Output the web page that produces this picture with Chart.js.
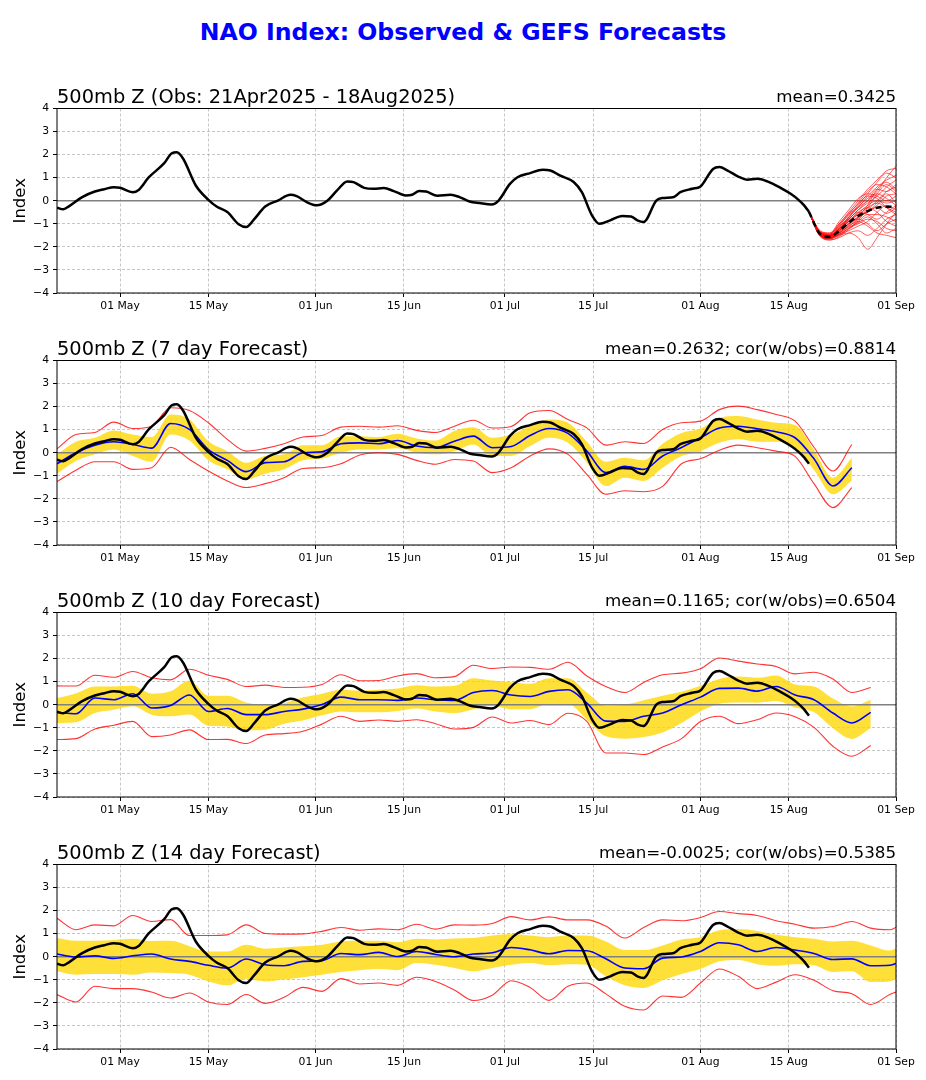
<!DOCTYPE html>
<html>
<head>
<meta charset="utf-8">
<title>NAO Index: Observed & GEFS Forecasts</title>
<script src="https://cdn.jsdelivr.net/npm/chart.js@4.4.1/dist/chart.umd.min.js"></script>
<style>
  body { margin: 0; background: #fff; width: 926px; height: 1080px; position: relative; overflow: hidden; font-family: "DejaVu Sans", sans-serif; }
  #title { position: absolute; left: 0; top: 18px; width: 926px; text-align: center; font-weight: bold; font-size: 23.6px; line-height: 28px; color: #0000ff; }
  .panel { position: absolute; left: 0; width: 926px; height: 252px; }
  .panel canvas { display: block; }
</style>
</head>
<body>
<div id="title">NAO Index: Observed &amp; GEFS Forecasts</div>
<div class="panel" style="top:60px"><canvas id="p1" width="926" height="252"></canvas></div>
<div class="panel" style="top:312px"><canvas id="p2" width="926" height="252"></canvas></div>
<div class="panel" style="top:564px"><canvas id="p3" width="926" height="252"></canvas></div>
<div class="panel" style="top:816px"><canvas id="p4" width="926" height="252"></canvas></div>

<script>
// x axis = days since 21 Apr 2025
const tickDays = [10, 24, 41, 55, 71, 85, 102, 116, 133];
const tickLabels = ['01 May', '15 May', '01 Jun', '15 Jun', '01 Jul', '15 Jul', '01 Aug', '15 Aug', '01 Sep'];
const yTicks = [-4, -3, -2, -1, 0, 1, 2, 3, 4];

const panelTitles = [
  '500mb Z (Obs: 21Apr2025 - 18Aug2025)',
  '500mb Z (7 day Forecast)',
  '500mb Z (10 day Forecast)',
  '500mb Z (14 day Forecast)'
];
const panelStats = [
  'mean=0.3425',
  'mean=0.2632; cor(w/obs)=0.8814',
  'mean=0.1165; cor(w/obs)=0.6504',
  'mean=-0.0025; cor(w/obs)=0.5385'
];

// observed NAO (black)
const obsDays = [0,1,2,4,6,7.5,9,10,12,13,14.5,17,18.2,19,20,22,24,25.3,27,28.8,30,31.2,33,35,37,38,39.6,41.2,42.8,44.4,46,47,48.7,50.2,51.8,53.4,55.3,56.3,57.4,58.5,60.3,62.4,63.8,65.4,67,68.9,70,71.8,73,75,77,78.2,79.7,81.9,83.2,84.8,86,87.7,89.6,91,92,93,95,96,97.8,98.8,100.7,102,104,105,106.3,108,109.4,111,112.6,114.7,116.3,117.5,118.4,119.2];
const obsVals = [-0.3,-0.37,-0.22,0.16,0.4,0.5,0.59,0.56,0.37,0.48,1.0,1.63,2.06,2.1,1.82,0.66,0.04,-0.25,-0.49,-1.02,-1.14,-0.82,-0.25,0.01,0.26,0.2,-0.06,-0.2,-0.01,0.45,0.84,0.81,0.56,0.52,0.55,0.42,0.23,0.26,0.42,0.4,0.22,0.26,0.16,-0.03,-0.1,-0.16,0.01,0.73,1.02,1.2,1.34,1.31,1.1,0.81,0.37,-0.63,-1.0,-0.85,-0.66,-0.68,-0.85,-0.92,0.01,0.12,0.16,0.37,0.52,0.62,1.38,1.46,1.31,1.05,0.91,0.95,0.84,0.56,0.3,0.05,-0.19,-0.48];

// GEFS ensemble from 18 Aug (panel 1)
const ensDays = [119.2, 121, 122.5, 124, 125.5, 127, 128.5, 130, 131.5, 133];
const ensMean = [-0.48, -1.45, -1.57, -1.3, -0.95, -0.66, -0.45, -0.3, -0.26, -0.27];
const ensMembers = [
  [-0.48,-1.3,-1.4,-1.0,-0.5,0.0,0.5,0.9,1.3,1.4],
  [-0.48,-1.4,-1.5,-1.2,-0.7,-0.2,0.3,0.8,1.2,1.0],
  [-0.48,-1.5,-1.6,-1.4,-1.1,-0.8,-0.4,0.0,0.4,0.6],
  [-0.48,-1.45,-1.55,-1.3,-0.9,-0.6,-0.3,-0.1,-0.3,-0.5],
  [-0.48,-1.5,-1.7,-1.6,-1.4,-1.3,-1.5,-1.2,-0.8,-0.6],
  [-0.48,-1.4,-1.5,-1.1,-0.6,-0.3,0.0,0.3,0.1,-0.2],
  [-0.48,-1.45,-1.6,-1.5,-1.2,-1.0,-0.8,-0.9,-1.2,-1.3],
  [-0.48,-1.35,-1.45,-1.1,-0.8,-0.4,-0.1,0.2,0.6,0.9],
  [-0.48,-1.5,-1.65,-1.5,-1.4,-1.6,-2.1,-1.6,-1.0,-0.5],
  [-0.48,-1.4,-1.5,-1.2,-0.8,-0.5,-0.6,-0.8,-0.5,-0.2],
  [-0.48,-1.45,-1.55,-1.3,-1.0,-0.7,-0.2,0.5,0.8,0.5],
  [-0.48,-1.55,-1.65,-1.4,-1.1,-0.9,-1.1,-1.4,-1.5,-1.6],
  [-0.48,-1.35,-1.4,-0.9,-0.4,0.1,0.3,0.2,0.0,0.2],
  [-0.48,-1.5,-1.6,-1.3,-0.9,-0.5,-0.3,-0.5,-0.9,-1.1],
  [-0.48,-1.4,-1.55,-1.35,-1.0,-0.7,-0.5,-0.2,0.2,0.3],
  [-0.48,-1.45,-1.5,-1.15,-0.7,-0.3,0.2,0.6,0.9,1.1],
  [-0.48,-1.5,-1.6,-1.45,-1.3,-1.1,-0.9,-0.5,-0.2,-0.4],
  [-0.48,-1.4,-1.5,-1.25,-0.85,-0.55,-0.2,0.0,-0.1,0.0],
  [-0.48,-1.5,-1.6,-1.35,-1.0,-0.8,-1.0,-1.3,-1.0,-0.8],
  [-0.48,-1.45,-1.55,-1.2,-0.8,-0.4,0.0,0.5,0.4,0.7],
  [-0.48,-1.55,-1.7,-1.55,-1.25,-0.9,-0.6,-0.6,-0.7,-0.9],
  [-0.48,-1.35,-1.45,-1.05,-0.6,-0.1,0.4,0.7,0.6,0.3],
  [-0.48,-1.5,-1.6,-1.4,-1.05,-0.75,-0.45,-0.3,-0.55,-0.3],
  [-0.48,-1.4,-1.5,-1.2,-0.9,-0.6,-0.5,-0.1,0.3,-0.1],
  [-0.48,-1.45,-1.55,-1.25,-0.75,-0.25,0.1,0.4,1.0,1.5],
  [-0.48,-1.5,-1.6,-1.45,-1.15,-0.95,-0.7,-1.0,-1.4,-1.2],
  [-0.48,-1.4,-1.45,-1.0,-0.55,-0.15,0.2,0.1,-0.3,-0.6],
  [-0.48,-1.5,-1.65,-1.45,-1.2,-0.85,-0.3,0.3,0.7,0.4]
];

// 7 day forecast
const days7 = [0,3,6,9,12,15,18,21,24,27,30,33,36,39,42,45,48,51,54,57,60,63,66,69,72,75,78,81,84,87,90,93,96,99,102,105,108,111,114,117,120,123,126];
const mean7 = [-0.48,0.0,0.33,0.48,0.36,0.2,1.27,1.01,0.14,-0.33,-0.82,-0.43,-0.39,0.0,0.04,0.39,0.43,0.39,0.53,0.29,0.22,0.5,0.72,0.22,0.27,0.75,1.05,0.84,0.07,-0.86,-0.59,-0.72,-0.14,0.23,0.65,1.07,1.15,1.04,0.91,0.65,-0.26,-1.44,-0.65];
const bandHi7 = [-0.07,0.48,0.65,0.97,0.79,0.68,1.66,1.44,0.5,0.07,-0.43,-0.14,-0.07,0.33,0.33,0.72,0.72,0.68,0.82,0.62,0.53,0.94,1.11,0.65,0.79,1.15,1.44,1.3,0.48,-0.39,-0.22,-0.33,0.39,0.86,1.05,1.51,1.59,1.44,1.3,1.2,0.12,-1.08,-0.22];
const bandLo7 = [-0.91,-0.36,-0.07,0.14,-0.14,-0.39,0.79,0.53,-0.33,-0.72,-1.15,-0.91,-0.72,-0.33,-0.25,0.0,0.14,0.14,0.19,0.0,-0.07,0.07,0.36,-0.14,-0.14,0.29,0.65,0.43,-0.43,-1.44,-1.08,-1.22,-0.65,-0.14,0.07,0.43,0.58,0.48,0.48,0.22,-0.75,-1.8,-1.2];
const max7 = [0.17,0.79,0.88,1.33,1.05,1.15,1.95,1.83,1.3,0.58,0.07,0.19,0.39,0.68,0.75,1.11,1.15,1.11,1.17,0.97,0.88,1.15,1.41,1.07,1.14,1.73,1.83,1.44,1.08,0.33,0.48,0.4,1.01,1.3,1.37,1.87,2.02,1.87,1.66,1.37,0.24,-0.79,0.36];
const min7 = [-1.25,-0.76,-0.39,-0.39,-0.72,-0.65,0.24,-0.29,-0.79,-1.22,-1.51,-1.34,-1.08,-0.68,-0.65,-0.48,-0.1,0.0,-0.07,-0.33,-0.5,-0.29,-0.36,-0.86,-0.65,-0.14,0.17,-0.07,-0.94,-1.8,-1.65,-1.69,-1.46,-0.48,-0.26,0.11,0.33,0.22,0.07,-0.16,-1.34,-2.38,-1.51];

// 10 day forecast
const days10 = [0,3,6,9,12,15,18,21,24,27,30,33,36,39,42,45,48,51,54,57,60,63,66,69,72,75,78,81,84,87,90,93,96,99,102,105,108,111,114,117,120,123,126,129];
const mean10 = [-0.33,-0.39,0.29,0.22,0.48,-0.14,-0.03,0.42,-0.29,-0.16,-0.43,-0.43,-0.29,-0.19,0.01,0.33,0.22,0.22,0.19,0.29,0.22,0.19,0.53,0.62,0.42,0.36,0.58,0.65,0.07,-0.71,-0.72,-0.5,-0.36,0.0,0.33,0.71,0.72,0.59,0.79,0.42,0.22,-0.36,-0.79,-0.33];
const bandHi10 = [0.29,0.49,0.79,0.79,0.82,0.48,0.58,1.05,0.39,0.39,0.1,0.0,0.07,0.32,0.48,0.65,0.61,0.65,0.71,0.85,0.79,0.82,1.15,1.05,0.98,0.91,1.15,1.15,0.53,-0.04,0.0,0.19,0.39,0.56,0.82,1.12,1.22,1.17,1.27,0.88,0.79,0.27,-0.07,0.22];
const bandLo10 = [-0.79,-0.76,-0.36,-0.22,-0.07,-0.43,-0.5,-0.42,-0.91,-0.94,-1.11,-1.08,-0.82,-0.68,-0.46,-0.29,-0.33,-0.33,-0.27,-0.16,-0.29,-0.36,-0.19,-0.04,-0.19,-0.19,0.03,0.03,-0.65,-1.37,-1.47,-1.4,-1.2,-0.79,-0.29,0.04,0.1,0.09,0.16,-0.12,-0.33,-1.02,-1.48,-1.01];
const max10 = [0.82,0.81,1.28,1.19,1.44,1.17,1.08,1.54,1.28,1.1,0.79,0.85,0.75,0.76,0.88,1.3,1.04,1.05,1.25,1.35,1.17,1.22,1.71,1.57,1.64,1.62,1.54,1.84,1.25,0.79,0.53,0.97,1.3,1.37,1.56,2.03,1.89,1.77,1.66,1.34,1.41,1.12,0.53,0.75];
const min10 = [-1.51,-1.47,-1.05,-0.89,-0.72,-1.38,-1.31,-1.09,-1.51,-1.5,-1.68,-1.31,-1.25,-1.15,-0.84,-0.5,-0.72,-0.66,-0.72,-0.65,-0.82,-1.05,-0.98,-0.53,-0.79,-0.68,-0.86,-0.37,-0.72,-2.09,-2.09,-2.16,-1.83,-1.47,-0.73,-0.5,-0.82,-0.65,-0.36,-0.52,-0.98,-1.8,-2.23,-1.77];

// 14 day forecast
const days14 = [0,3,6,9,12,15,18,21,24,27,30,33,36,39,42,45,48,51,54,57,60,63,66,69,72,75,78,81,84,87,90,93,96,99,102,105,108,111,114,117,120,123,126,129,132,133];
const mean14 = [0.12,-0.01,0.04,-0.07,0.04,0.12,-0.1,-0.2,-0.37,-0.49,-0.1,-0.35,-0.39,-0.2,-0.17,0.14,0.09,0.19,0.01,0.23,0.1,0.0,0.12,0.17,0.4,0.3,0.13,0.27,0.26,-0.09,-0.49,-0.52,-0.06,-0.01,0.23,0.61,0.52,0.23,0.4,0.29,0.14,-0.12,-0.09,-0.39,-0.37,-0.29];
const bandHi14 = [0.81,0.69,0.69,0.73,0.78,0.68,0.69,0.46,0.23,0.23,0.52,0.35,0.4,0.45,0.52,0.66,0.69,0.69,0.63,0.78,0.75,0.79,0.81,0.92,0.99,0.92,0.85,0.92,0.92,0.66,0.29,0.29,0.49,0.75,0.85,1.15,1.2,1.12,0.95,0.85,0.78,0.66,0.69,0.49,0.27,0.37];
const bandLo14 = [-0.63,-0.78,-0.75,-0.75,-0.78,-0.68,-0.71,-0.78,-1.07,-1.24,-0.95,-1.07,-0.99,-0.89,-0.78,-0.66,-0.58,-0.53,-0.58,-0.27,-0.35,-0.49,-0.63,-0.49,-0.35,-0.27,-0.37,-0.32,-0.35,-0.85,-1.24,-1.35,-1.02,-0.75,-0.53,-0.2,-0.14,-0.32,-0.39,-0.32,-0.37,-0.66,-0.63,-1.1,-1.07,-0.95];
const max14 = [1.67,1.17,1.38,1.34,1.79,1.53,1.61,0.92,0.92,0.95,1.38,1.01,0.98,0.99,1.1,1.27,1.15,1.21,1.17,1.41,1.2,1.38,1.37,1.44,1.74,1.6,1.73,1.6,1.6,1.33,0.81,1.27,1.6,1.56,1.7,1.96,1.87,1.79,1.56,1.41,1.24,1.31,1.53,1.24,1.17,1.27];
const min14 = [-1.64,-1.96,-1.28,-1.38,-1.38,-1.53,-1.79,-1.57,-1.96,-2.07,-1.64,-2.02,-1.76,-1.33,-1.5,-0.95,-1.18,-1.14,-1.24,-0.89,-1.07,-1.44,-1.9,-1.67,-1.04,-1.33,-1.89,-1.28,-1.14,-1.61,-2.15,-2.31,-1.7,-1.76,-1.14,-0.53,-0.85,-1.38,-1.1,-0.78,-1.02,-1.47,-1.6,-2.07,-1.64,-1.53];

const FONT = '"DejaVu Sans", sans-serif';
const GOLD = 'rgba(255, 215, 0, 0.78)';
const RED = 'rgba(255, 0, 0, 0.8)';

const pts = (days, vals) => days.map((d, i) => ({ x: d, y: vals[i] }));

function line(days, vals, color, width, extra) {
  return Object.assign({
    data: pts(days, vals),
    borderColor: color,
    borderWidth: width,
    pointRadius: 0,
    fill: false,
    cubicInterpolationMode: 'monotone'
  }, extra || {});
}

// frame, zero line and the two header texts (matplotlib look)
const panelDeco = {
  id: 'panelDeco',
  beforeDatasetsDraw(chart) {
    const { ctx, chartArea: a, scales: { y } } = chart;
    const y0 = y.getPixelForValue(0);
    ctx.save();
    ctx.strokeStyle = '#808080';
    ctx.lineWidth = 1.4;
    ctx.beginPath();
    ctx.moveTo(a.left, y0);
    ctx.lineTo(a.right, y0);
    ctx.stroke();
    ctx.restore();
  },
  afterDraw(chart, args, opts) {
    const { ctx, chartArea: a } = chart;
    ctx.save();
    ctx.strokeStyle = '#000';
    ctx.lineWidth = 1;
    ctx.strokeRect(a.left, a.top, a.right - a.left, a.bottom - a.top);
    ctx.fillStyle = '#000';
    ctx.textBaseline = 'alphabetic';
    ctx.font = '19.4px ' + FONT;
    ctx.textAlign = 'left';
    ctx.fillText(opts.left, a.left, a.top - 6);
    ctx.font = '16.7px ' + FONT;
    ctx.textAlign = 'right';
    ctx.fillText(opts.right, a.right, a.top - 7);
    ctx.restore();
  }
};

function makePanel(id, datasets, idx) {
  return new Chart(document.getElementById(id), {
    type: 'line',
    data: { datasets },
    plugins: [panelDeco],
    options: {
      responsive: false,
      animation: false,
      events: [],
      layout: { padding: { top: 48.5, right: 30, left: 0, bottom: 0 } },
      plugins: {
        legend: { display: false },
        tooltip: { enabled: false },
        filler: { drawTime: 'beforeDatasetsDraw' },
        panelDeco: { left: panelTitles[idx], right: panelStats[idx] }
      },
      scales: {
        x: {
          type: 'linear',
          min: 0,
          max: 133,
          afterBuildTicks: s => { s.ticks = tickDays.map(v => ({ value: v })); },
          afterFit: s => { s.height = 19; },
          ticks: {
            autoSkip: false,
            maxRotation: 0,
            padding: 3,
            color: '#000',
            font: { family: FONT, size: 10.8 },
            callback: v => tickLabels[tickDays.indexOf(v)]
          },
          grid: { color: '#b8b8b8', lineWidth: 0.8, tickLength: 4, tickColor: '#000', tickWidth: 1 },
          border: { display: false, dash: [3, 2] }
        },
        y: {
          min: -4,
          max: 4,
          afterBuildTicks: s => { s.ticks = yTicks.map(v => ({ value: v })); },
          afterFit: s => { s.width = 57; },
          ticks: {
            padding: 4,
            color: '#000',
            font: { family: FONT, size: 10.8 },
            callback: v => (v < 0 ? '\u2212' + Math.abs(v) : String(v))
          },
          grid: { color: '#b8b8b8', lineWidth: 0.8, tickLength: 4, tickColor: '#000', tickWidth: 1 },
          border: { display: false, dash: [3, 2] },
          title: { display: true, text: 'Index', color: '#000', font: { family: FONT, size: 16.5 }, padding: { top: 11, bottom: 0 } }
        }
      }
    }
  });
}

// ── panel 1: observations + ensemble members ──
const p1 = [
  line(obsDays, obsVals, '#000', 2.5),
  line(ensDays, ensMean, '#000', 2.5, { borderDash: [6, 4] })
];
ensMembers.forEach(m => p1.push(line(ensDays, m, 'rgba(255, 0, 0, 0.7)', 0.9)));
makePanel('p1', p1, 0);

// ── panels 2-4: mean (blue), spread band (gold), min/max (red) ──
function forecastSets(days, mean, hi, lo, mx, mn) {
  return [
    line(obsDays, obsVals, '#000', 2.5),
    line(days, mean, '#0000ff', 1.6),
    line(days, mx, RED, 1.1),
    line(days, mn, RED, 1.1),
    line(days, hi, 'rgba(0,0,0,0)', 0, { fill: '+1', backgroundColor: GOLD }),
    line(days, lo, 'rgba(0,0,0,0)', 0)
  ];
}
makePanel('p2', forecastSets(days7, mean7, bandHi7, bandLo7, max7, min7), 1);
makePanel('p3', forecastSets(days10, mean10, bandHi10, bandLo10, max10, min10), 2);
makePanel('p4', forecastSets(days14, mean14, bandHi14, bandLo14, max14, min14), 3);
</script>
</body>
</html>
